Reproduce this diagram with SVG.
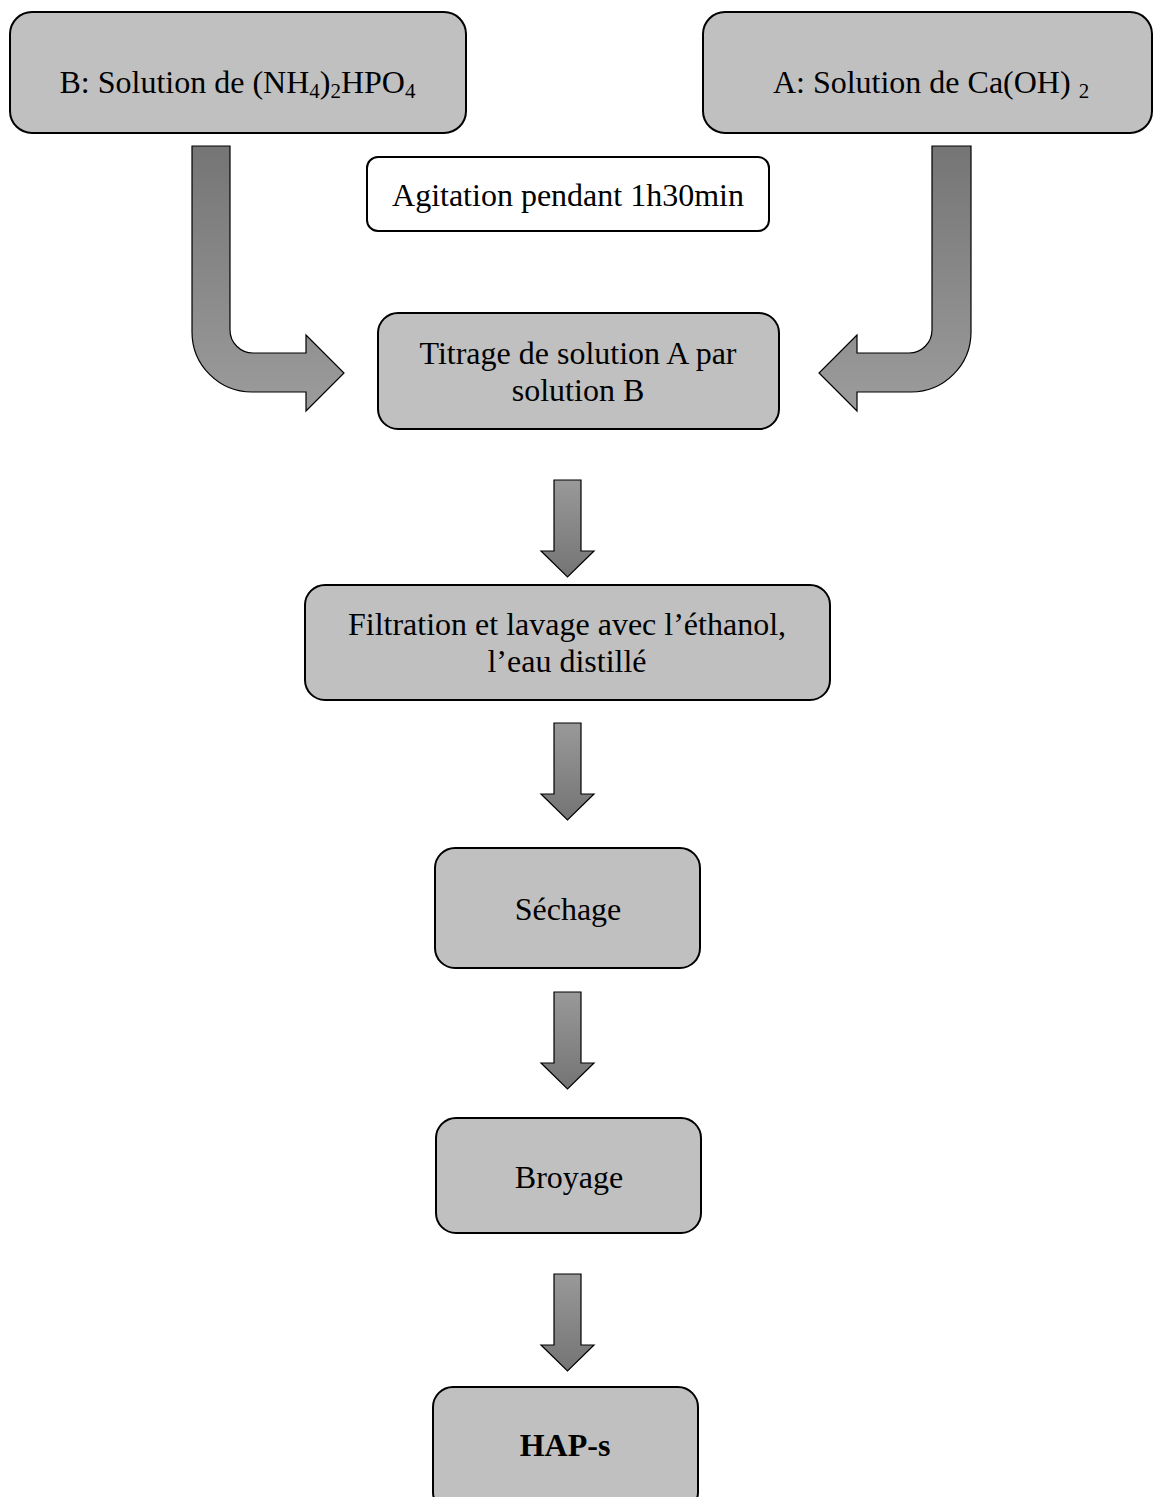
<svg xmlns="http://www.w3.org/2000/svg" width="1154" height="1497" viewBox="0 0 1154 1497">
<style>
.box{fill:#c0c0c0;stroke:#000;stroke-width:2}
.wbox{fill:#fff;stroke:#000;stroke-width:2}
.t{font-family:"Liberation Serif","Times New Roman",serif;font-size:32px;fill:#000;text-anchor:middle}
.sub{font-size:21px}
.b{font-weight:bold}
.bent{fill:url(#gBent);stroke:#000;stroke-width:1.2}
.down{fill:url(#gDown);stroke:#000;stroke-width:1.2}
</style>
<defs>
<linearGradient id="gBent" x1="0" y1="0" x2="0" y2="1">
<stop offset="0" stop-color="#757575"/>
<stop offset="1" stop-color="#9c9c9c"/>
</linearGradient>
<linearGradient id="gDown" x1="0" y1="0" x2="0" y2="1">
<stop offset="0" stop-color="#999"/>
<stop offset="1" stop-color="#747474"/>
</linearGradient>
<path id="downArrow" d="M-13.5 0 L13.5 0 L13.5 71 L26.5 71 L0 97 L-26.5 71 L-13.5 71 Z"/>
</defs>

<g id="connectors">
<path class="bent" d="M192 146 L230 146 L230 330 A23 23 0 0 0 253 353 L306 353 L306 335 L344 373 L306 411 L306 392 L252 392 A60 60 0 0 1 192 332 Z"/>
<path class="bent" d="M932 146 L971 146 L971 332 A60 60 0 0 1 911 392 L857 392 L857 411 L819 373 L857 335 L857 353 L909 353 A23 23 0 0 0 932 330 Z"/>
<use href="#downArrow" class="down" transform="translate(567.5 480)"/>
<use href="#downArrow" class="down" transform="translate(567.5 723)"/>
<use href="#downArrow" class="down" transform="translate(567.5 992)"/>
<use href="#downArrow" class="down" transform="translate(567.5 1274)"/>
</g>

<g id="nodeB">
<rect class="box" x="10" y="12" width="456" height="121" rx="22"/>
<text class="t" x="237.5" y="93">B: Solution de (NH<tspan class="sub" dy="5">4</tspan><tspan dy="-5">)</tspan><tspan class="sub" dy="5">2</tspan><tspan dy="-5">HPO</tspan><tspan class="sub" dy="5">4</tspan></text>
</g>
<g id="nodeA">
<rect class="box" x="703" y="12" width="449" height="121" rx="22"/>
<text class="t" x="931" y="93">A: Solution de Ca(OH) <tspan class="sub" dy="5">2</tspan></text>
</g>
<g id="nodeAgitation">
<rect class="wbox" x="367" y="157" width="402" height="74" rx="11"/>
<text class="t" x="568" y="206">Agitation pendant 1h30min</text>
</g>
<g id="nodeTitrage">
<rect class="box" x="378" y="313" width="401" height="116" rx="20"/>
<text class="t" x="578" y="364">Titrage de solution A par</text>
<text class="t" x="578" y="401">solution B</text>
</g>
<g id="nodeFiltration">
<rect class="box" x="305" y="585" width="525" height="115" rx="20"/>
<text class="t" x="567" y="635">Filtration et lavage avec l’éthanol,</text>
<text class="t" x="567" y="672">l’eau distillé</text>
</g>
<g id="nodeSechage">
<rect class="box" x="435" y="848" width="265" height="120" rx="20"/>
<text class="t" x="568" y="920">Séchage</text>
</g>
<g id="nodeBroyage">
<rect class="box" x="436" y="1118" width="265" height="115" rx="20"/>
<text class="t" x="569" y="1188">Broyage</text>
</g>
<g id="nodeHAP">
<rect class="box" x="433" y="1387" width="265" height="125" rx="20"/>
<text class="t b" x="565" y="1456">HAP-s</text>
</g>
</svg>
